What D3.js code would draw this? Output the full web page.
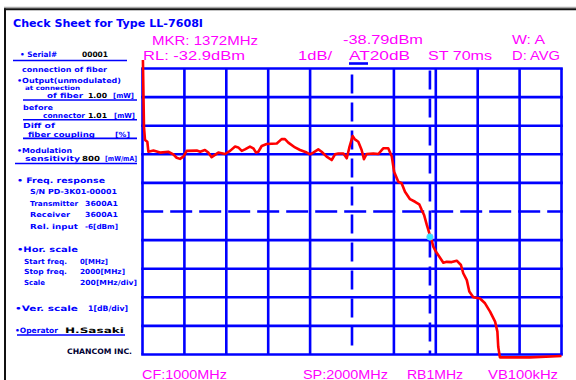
<!DOCTYPE html>
<html><head><meta charset="utf-8">
<script src="https://cdn.jsdelivr.net/npm/d3@7"></script>
<style>
html,body{margin:0;padding:0;background:#fff;}
svg{display:block;}
</style></head>
<body>
<script>
// ---- data ----
const freqMHz = [2, 7, 12, 23, 28, 52, 84, 123, 147, 163, 179, 195, 211, 259, 275, 298, 314, 330, 346, 362, 394, 418, 442, 457, 474, 489, 513, 529, 542, 553, 569, 593, 641, 664, 680, 696, 728, 752, 784, 800, 815, 839, 855, 879, 903, 919, 935, 959, 975, 987, 1003, 1014, 1030, 1046, 1057, 1070, 1102, 1126, 1149, 1173, 1190, 1201, 1221, 1237, 1253, 1277, 1301, 1321, 1333, 1344, 1357, 1369, 1376, 1388, 1401, 1417, 1436, 1452, 1476, 1500, 1520, 1531, 1548, 1560, 1579, 1611, 1635, 1659, 1683, 1694, 1698, 1706, 1850, 2000];
const levelDBm = [-32.6, -34.94, -35.40, -35.46, -35.81, -35.77, -35.84, -35.81, -35.90, -36.02, -36.06, -35.98, -35.78, -35.77, -35.81, -35.75, -35.84, -36.00, -35.92, -35.84, -35.89, -35.78, -35.63, -35.66, -35.78, -35.73, -35.63, -35.69, -35.84, -35.81, -35.61, -35.54, -35.52, -35.37, -35.37, -35.49, -35.66, -35.75, -35.84, -35.90, -35.84, -35.73, -35.81, -35.98, -36.10, -35.90, -35.87, -35.87, -36.04, -35.67, -35.26, -35.38, -35.46, -35.75, -36.07, -35.89, -35.87, -35.89, -35.69, -35.69, -35.98, -36.51, -36.86, -36.91, -37.21, -37.47, -37.56, -37.65, -37.85, -38.02, -38.37, -38.66, -38.78, -39.13, -39.31, -39.48, -39.69, -39.66, -39.67, -39.62, -39.77, -40.06, -40.30, -40.70, -40.90, -40.94, -41.11, -41.40, -41.75, -42.10, -42.63, -43.0, -43.0, -42.95];
const markerFreq = 1372;
const markerLevel = -38.79;
const startFreq = 0, stopFreq = 2000, divFreq = 200;
const refLevel = -32.9, dbPerDiv = 1, nDiv = 10;
const headerRow1 = ["MKR: 1372MHz", "-38.79dBm", "W: A"];
const headerRow2 = ["RL: -32.9dBm", "1dB/", "AT20dB", "ST 70ms", "D: AVG"];
const footerRow = ["CF:1000MHz", "SP:2000MHz", "RB1MHz", "VB100kHz"];
const titleText = "Check Sheet for Type LL-7608I";

// ---- drawing ----
const W = 576, H = 380;
const svg = d3.select("body").append("svg").attr("width", W).attr("height", H);

const x = d3.scaleLinear().domain([startFreq, stopFreq]).range([142.5, 561.5]);
const y = d3.scaleLinear().domain([refLevel, refLevel - dbPerDiv * nDiv]).range([68.5, 354.5]);

const BLUE = "#0000ff", MAG = "#ff00ff", RED = "#ff0000";

// frame
svg.append("line").attr("x1", 4).attr("x2", W).attr("y1", 7.3).attr("y2", 7.3).attr("stroke", "#aaa").attr("stroke-width", 1.2);
svg.append("line").attr("x1", 4).attr("x2", W).attr("y1", 9.2).attr("y2", 9.2).attr("stroke", "#111").attr("stroke-width", 2);
svg.append("line").attr("x1", 5).attr("x2", 5).attr("y1", 8.5).attr("y2", H).attr("stroke", "#111").attr("stroke-width", 2);

// grid
const vLines = d3.range(startFreq, stopFreq + 1, divFreq);
const hLines = d3.range(0, nDiv + 1).map(i => refLevel - i * dbPerDiv);
const g = svg.append("g");
g.selectAll(".v").data(vLines).join("line")
  .attr("x1", d => x(d)).attr("x2", d => x(d))
  .attr("y1", y.range()[0]).attr("y2", y.range()[1])
  .attr("stroke", BLUE).attr("stroke-width", 2.6)
  .attr("stroke-dasharray", (d, i) => i === 5 ? "19,9" : null)
  .attr("stroke-dashoffset", -6);
g.selectAll(".h").data(hLines).join("line")
  .attr("y1", d => y(d)).attr("y2", d => y(d))
  .attr("x1", x.range()[0] - 1.3).attr("x2", x.range()[1] + 1.3)
  .attr("stroke", BLUE).attr("stroke-width", 2.6)
  .attr("stroke-dasharray", (d, i) => i === 5 ? "22,7" : null);
// marker line
g.append("line").attr("x1", x(markerFreq)).attr("x2", x(markerFreq))
  .attr("y1", y.range()[0]).attr("y2", y.range()[1])
  .attr("stroke", BLUE).attr("stroke-width", 2.6).attr("stroke-dasharray", "19,9").attr("stroke-dashoffset", -2);
// small attenuator mark
svg.append("line").attr("x1", 349).attr("x2", 368).attr("y1", 63.5).attr("y2", 63.5).attr("stroke", BLUE).attr("stroke-width", 2.6);

// trace
const pts = freqMHz.map((f, i) => [f, levelDBm[i]]);
svg.append("path").datum(pts)
  .attr("d", d3.line().x(d => x(d[0])).y(d => y(d[1])))
  .attr("fill", "none").attr("stroke", RED).attr("stroke-width", 2.6).attr("stroke-linejoin", "round");

// marker
svg.append("circle").attr("cx", x(markerFreq)).attr("cy", y(markerLevel)).attr("r", 3.2)
  .attr("fill", "#33e6ff").attr("stroke", "#66ccff").attr("stroke-width", 0.8);

// magenta texts
function mtext(t, x0, yb, w, fs) {
  svg.append("text").attr("x", x0).attr("y", yb).text(t)
    .attr("fill", MAG).attr("font-family", "Liberation Sans, Arial, sans-serif")
    .attr("font-size", fs).attr("textLength", w).attr("lengthAdjust", "spacingAndGlyphs");
}
const r1 = [[152, 44.6, 106], [343, 44.3, 80], [512, 44.3, 33]];
headerRow1.forEach((t, i) => mtext(t, r1[i][0], r1[i][1], r1[i][2], 13.5));
const r2 = [[143, 59.8, 102], [298, 59.8, 34], [349, 59.8, 61], [428, 59.8, 64], [512, 59.8, 48]];
headerRow2.forEach((t, i) => mtext(t, r2[i][0], r2[i][1], r2[i][2], 13.5));
const r3 = [[142, 378.5, 85], [303, 378.5, 85], [407, 378.5, 56], [488, 378.5, 70]];
footerRow.forEach((t, i) => mtext(t, r3[i][0], r3[i][1], r3[i][2], 13));

// title
svg.append("text").attr("x", 13).attr("y", 27.3).text(titleText)
  .attr("fill", BLUE).attr("font-family", "DejaVu Sans, sans-serif").attr("font-weight", "bold")
  .attr("font-size", 10).attr("textLength", 190).attr("lengthAdjust", "spacingAndGlyphs");

// left panel
const panel = [
  ["\u2022 Serial#", 20, 57, 37, BLUE, 7.5], ["00001", 82, 57, 26, "#000", 7.5],
  ["connection of fiber", 22, 72, 85, BLUE, 7],
  ["\u2022Output(unmodulated)", 17, 83, 104, BLUE, 7],
  ["at connection", 25, 90.3, 55, BLUE, 6],
  ["of fiber", 47, 98.2, 36, BLUE, 7], ["1.00", 88, 98.2, 19, "#000", 7], ["[mW]", 113, 98.2, 21, BLUE, 7],
  ["before", 23, 109.5, 30, BLUE, 7],
  ["connector", 43, 118, 42, BLUE, 7], ["1.01", 88, 118, 19, "#000", 7], ["[mW]", 114, 118, 21, BLUE, 7],
  ["Diff of", 23, 128, 32, BLUE, 7],
  ["fiber coupling", 28, 136.5, 67, BLUE, 7], ["[%]", 115, 136.5, 15, BLUE, 7],
  ["\u2022Modulation", 17, 152.5, 55, BLUE, 7],
  ["sensitivity", 25, 161, 55, BLUE, 7], ["800", 82, 161, 18, "#000", 7], ["[mW/mA]", 105, 161, 32, BLUE, 7],
  ["\u2022 Freq. response", 17, 183, 88, BLUE, 7.5],
  ["S/N PD-3K01-00001", 30, 194, 87, BLUE, 7],
  ["Transmitter", 30, 205.5, 48, BLUE, 7], ["3600A1", 85, 205.5, 33, BLUE, 7],
  ["Receiver", 30, 217, 40, BLUE, 7], ["3600A1", 85, 217, 33, BLUE, 7],
  ["Rel. input", 30, 229, 48, BLUE, 7], ["-6[dBm]", 85, 229, 33, BLUE, 7],
  ["\u2022Hor. scale", 17, 251.5, 61, BLUE, 7.5],
  ["Start freq.", 24, 264, 43, BLUE, 7], ["0[MHz]", 80, 264, 28, BLUE, 7],
  ["Stop freq.", 24, 274, 43, BLUE, 7], ["2000[MHz]", 80, 274, 45, BLUE, 7],
  ["Scale", 24, 285, 21, BLUE, 7], ["200[MHz/div]", 80, 285, 57, BLUE, 7],
  ["\u2022Ver. scale", 15, 311, 63, BLUE, 7.5], ["1[dB/div]", 88, 311, 40, BLUE, 7.5],
  ["\u2022Operator", 15, 332.5, 43, BLUE, 7.5], ["H.Sasaki", 65, 332.5, 59, "#000", 7.5],
  ["CHANCOM INC.", 67, 354, 65, "#000033", 7.5]
];
svg.append("g").selectAll("text").data(panel).join("text")
  .attr("x", d => d[1]).attr("y", d => d[2]).text(d => d[0])
  .attr("fill", d => d[4]).attr("font-family", "DejaVu Sans, sans-serif").attr("font-weight", "bold")
  .attr("font-size", d => d[5]).attr("textLength", d => d[3]).attr("lengthAdjust", "spacingAndGlyphs");
const ulines = [[13, 127, 60.5], [23, 137, 100], [23, 137, 119.7], [23, 137, 138.4], [15, 137, 163.5], [17, 125, 335]];
svg.append("g").selectAll("line").data(ulines).join("line")
  .attr("x1", d => d[0]).attr("x2", d => d[1]).attr("y1", d => d[2]).attr("y2", d => d[2])
  .attr("stroke", BLUE).attr("stroke-width", 1.6);
</script>
</body></html>
